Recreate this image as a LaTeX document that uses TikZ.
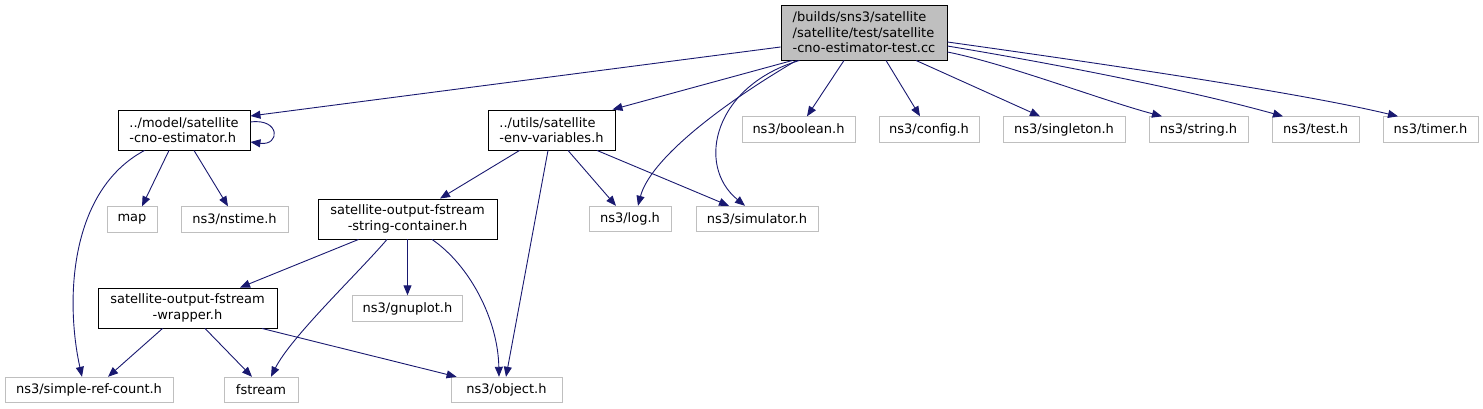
\documentclass[tikz,border=0pt]{standalone}
\usepackage{fontspec}
\setmainfont{DejaVu Sans}
\usetikzlibrary{arrows.meta}
\definecolor{edgeblue}{HTML}{191970}
\definecolor{grayline}{HTML}{BFBFBF}
\begin{document}
\begin{tikzpicture}[x=1pt,y=-1pt,
  every node/.style={font=\fontsize{13}{15.5}\selectfont, inner sep=0pt},
  inc/.style={draw=black, line width=0.9pt, fill=white, align=center},
  incl/.style={draw=black, line width=0.9pt, fill=white, align=left},
  sys/.style={draw=grayline, line width=0.9pt, fill=white, align=center, minimum height=25.5pt},
  rootbox/.style={draw=black, line width=0.9pt, fill=grayline, align=left},
  link/.style={draw=edgeblue, line width=0.9pt, -{Triangle[length=10pt,width=8pt]}}]
\useasboundingbox (0,0) rectangle (1483,409);

% nodes
\node[rootbox, minimum width=166pt, minimum height=55pt] (root) at (864,32.5)
  {/builds/sns3/satellite\\/satellite/test/satellite\\-cno-estimator-test.cc};
\node[incl, minimum width=132pt, minimum height=40pt] (model) at (184,130)
  {../model/satellite\\-cno-estimator.h};
\node[incl, minimum width=127pt, minimum height=40pt] (utils) at (551.5,130)
  {../utils/satellite\\-env-variables.h};
\node[sys, minimum width=113pt] (boolean) at (798.5,129.5) {ns3/boolean.h};
\node[sys, minimum width=100pt] (config) at (929,129.5) {ns3/config.h};
\node[sys, minimum width=122pt] (singleton) at (1064,129.5) {ns3/singleton.h};
\node[sys, minimum width=99pt] (string) at (1198.5,129.5) {ns3/string.h};
\node[sys, minimum width=87pt] (test) at (1315.5,129.5) {ns3/test.h};
\node[sys, minimum width=95pt] (timer) at (1430.5,129.5) {ns3/timer.h};
\node[sys, minimum width=50pt] (map) at (132,219.5) {map};
\node[sys, minimum width=107pt] (nstime) at (234.5,219.5) {ns3/nstime.h};
\node[inc, minimum width=179pt, minimum height=40pt] (container) at (407.5,219)
  {satellite-output-fstream\\-string-container.h};
\node[sys, minimum width=82pt] (log) at (630,219) {ns3/log.h};
\node[sys, minimum width=122pt] (sim) at (757,219) {ns3/simulator.h};
\node[sys, minimum width=110pt] (gnuplot) at (407.5,308.5) {ns3/gnuplot.h};
\node[inc, minimum width=179pt, minimum height=40pt] (wrapper) at (187.5,308)
  {satellite-output-fstream\\-wrapper.h};
\node[sys, minimum width=168pt] (simple) at (89,390) {ns3/simple-ref-count.h};
\node[sys, minimum width=74pt] (fstream) at (261,390) {fstream};
\node[sys, minimum width=111pt] (object) at (506.5,390) {ns3/object.h};

% edges from root
\draw[link] ([yshift=-14.5pt]root.west) -- ([yshift=14pt]model.east);
\draw[link] ([xshift=12pt]root.south west) -- ([xshift=-3pt]utils.north east);
\draw[link] ([xshift=16pt]root.south west) .. controls +(-77,45) and +(12,-46) .. ([xshift=8pt]log.north);
\draw[link] ([xshift=19pt]root.south west) .. controls +(-85,25) and +(-50,-41) .. ([xshift=-12pt]sim.north);
\draw[link] ([xshift=-20pt]root.south) -- ([xshift=8.5pt]boolean.north);
\draw[link] ([xshift=22pt]root.south) -- ([xshift=-9pt]config.north);
\draw[link] ([xshift=52pt]root.south) -- ([xshift=-24pt]singleton.north);
\draw[link] ([yshift=-19.5pt]root.east) .. controls +(60,12) and +(-60,-16) .. ([xshift=-36.5pt]string.north);
\draw[link] ([yshift=-13.5pt]root.east) .. controls +(120,20) and +(-90,-25) .. ([xshift=-32.5pt]test.north);
\draw[link] ([yshift=-9.5pt]root.east) .. controls +(150,21) and +(-100,-24) .. ([xshift=-32.5pt]timer.north);

% edges from model
\draw[link] ([yshift=8pt]model.east) .. controls +(30,-4) and +(30,4) .. ([yshift=-12pt]model.east);
\draw[link] ([xshift=-15pt]model.south) -- ([xshift=10pt]map.north);
\draw[link] ([xshift=10pt]model.south) -- ([xshift=-6.5pt]nstime.north);
\draw[link] ([xshift=27pt]model.south west) .. controls +(-75,40) and +(-17,-77) .. ([xshift=-7pt]simple.north);

% edges from utils
\draw[link] ([xshift=32pt]utils.south west) -- ([xshift=32.5pt]container.north);
\draw[link] ([xshift=16.5pt]utils.south) -- ([xshift=-14pt]log.north);
\draw[link] ([xshift=45.5pt]utils.south) -- ([xshift=-28pt]sim.north);
\draw[link] ([xshift=-3.5pt]utils.south) -- ([xshift=-0.5pt]object.north);

% edges from container
\draw[link] ([xshift=41pt]container.south west) -- ([xshift=52.5pt]wrapper.north);
\draw[link] ([xshift=-20.5pt]container.south) .. controls +(-30,35) and +(20,-40) .. ([xshift=10pt]fstream.north);
\draw[link] (container.south) -- (gnuplot.north);
\draw[link] ([xshift=24.5pt]container.south) .. controls +(38,26) and +(-1,-57) .. ([xshift=-7.5pt]object.north);

% edges from wrapper
\draw[link] ([xshift=65pt]wrapper.south west) -- ([xshift=19pt]simple.north);
\draw[link] ([xshift=17.5pt]wrapper.south) -- ([xshift=-9pt]fstream.north);
\draw[link] ([xshift=74.5pt]wrapper.south) -- ([xshift=6pt]object.north west);
\end{tikzpicture}
\end{document}
